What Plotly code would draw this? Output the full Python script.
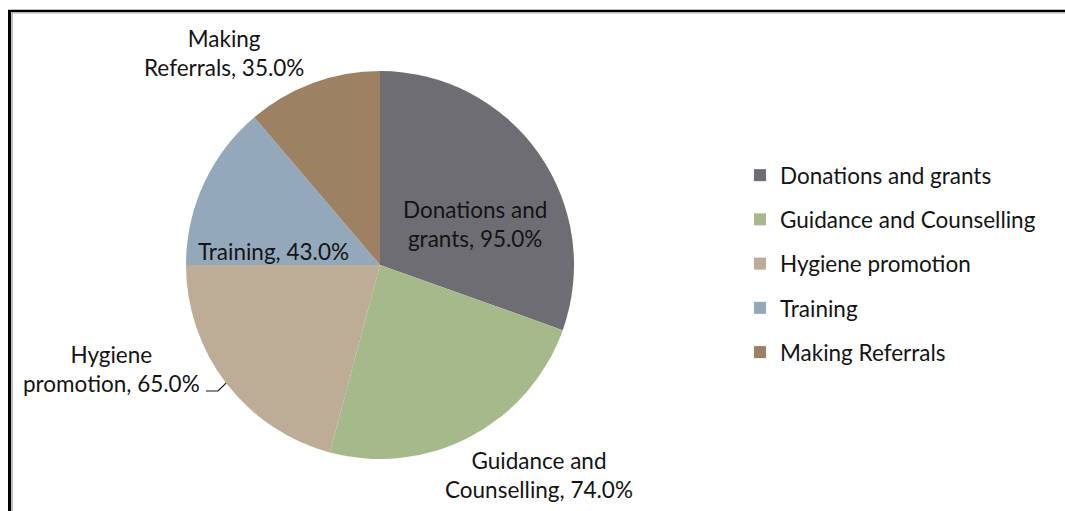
import math
import plotly.graph_objects as go

# Share of organisations offering each service (%)
services = ["Donations and grants", "Guidance and Counselling",
            "Hygiene promotion", "Training", "Making Referrals"]
shares = [95.0, 74.0, 65.0, 43.0, 35.0]
colors = ["#6e6d73", "#a6b98a", "#bdac96", "#93a9bb", "#9c8263"]

# Data label text (two-line where the label wraps)
label_text = ["Donations and<br>grants, 95.0%",
              "Guidance and<br>Counselling, 74.0%",
              "Hygiene<br>promotion, 65.0%",
              "Training, 43.0%",
              "Making<br>Referrals, 35.0%"]
# Label anchor points in pixels (x, y from top)
label_pos = [(475, 224), (539, 475), (111, 369), (273, 251), (224, 53)]

W, H = 1065, 511
FONT = "Lato, Calibri, Carlito, sans-serif"
FSIZE = 22.5

# Pie geometry in pixels
cx, cy, R = 380, 265, 194

def px_x(x):
    return x / W

def px_y(y):
    return 1 - y / H

fig = go.Figure()

fig.add_trace(go.Pie(
    labels=services,
    values=shares,
    sort=False,
    direction="clockwise",
    rotation=0,
    marker=dict(colors=colors, line=dict(width=0)),
    textinfo="none",
    hoverinfo="skip",
    showlegend=False,
    domain=dict(x=[px_x(cx - R), px_x(cx + R)],
                y=[px_y(cy + R), px_y(cy - R)]),
))

# Legend entries as square markers
for name, col in zip(services, colors):
    fig.add_trace(go.Scatter(
        x=[None], y=[None], mode="markers", name=name,
        legendgroup=name,
        marker=dict(symbol="square", size=12, color=col),
        hoverinfo="skip",
    ))

# Data labels
for txt, (lx, ly) in zip(label_text, label_pos):
    fig.add_annotation(
        x=px_x(lx), y=px_y(ly), xref="paper", yref="paper",
        text=txt, showarrow=False, align="center",
        xanchor="center", yanchor="middle",
        font=dict(family=FONT, size=FSIZE, color="#141414"),
    )

# Leader line to the Hygiene promotion slice, ending at the slice's mid-angle edge
total = sum(shares)
start = sum(shares[:2]) / total * 360
mid = math.radians(start + shares[2] / total * 360 / 2)
ex, ey = cx + R * math.sin(mid), cy - R * math.cos(mid)
fig.add_shape(
    type="path", xref="paper", yref="paper",
    path=(f"M {px_x(206)} {px_y(391)} L {px_x(218)} {px_y(391)} "
          f"L {px_x(ex)} {px_y(ey)}"),
    line=dict(color="#141414", width=1.2),
)

# Chart frame (top and left edges)
fig.add_shape(type="line", xref="paper", yref="paper",
              x0=px_x(8), x1=1, y0=px_y(11), y1=px_y(11),
              line=dict(color="#000000", width=2.5))
fig.add_shape(type="line", xref="paper", yref="paper",
              x0=px_x(12), x1=1, y0=px_y(13), y1=px_y(13),
              line=dict(color="#b0b0b0", width=1))
fig.add_shape(type="line", xref="paper", yref="paper",
              x0=px_x(9.5), x1=px_x(9.5), y0=px_y(10), y1=0,
              line=dict(color="#000000", width=3))
fig.add_shape(type="line", xref="paper", yref="paper",
              x0=px_x(12), x1=px_x(12), y0=px_y(13), y1=0,
              line=dict(color="#a8a8a8", width=1.5))

fig.update_layout(
    width=W, height=H,
    margin=dict(l=0, r=0, t=0, b=0),
    paper_bgcolor="white", plot_bgcolor="white",
    xaxis=dict(visible=False), yaxis=dict(visible=False),
    legend=dict(
        x=px_x(740), y=px_y(154), xanchor="left", yanchor="top",
        traceorder="grouped", tracegroupgap=12,
        font=dict(family=FONT, size=FSIZE, color="#141414"),
        bgcolor="rgba(0,0,0,0)",
    ),
)

fig.write_html("out.html")
